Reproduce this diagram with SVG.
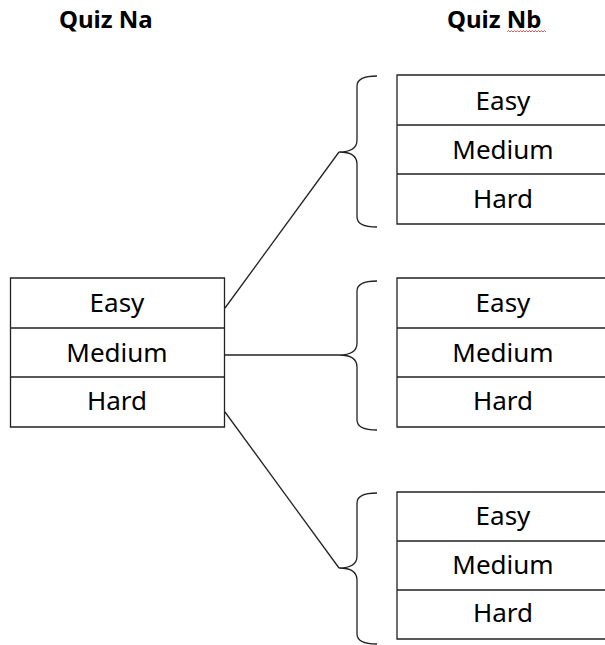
<svg xmlns="http://www.w3.org/2000/svg" width="605" height="645" viewBox="0 0 605 645">
<style>
.title{font-family:"Noto Sans","Liberation Sans",sans-serif;font-weight:bold;font-size:24px;fill:#000}
.cell{font-family:"Noto Sans","Liberation Sans",sans-serif;font-size:26px;fill:#000;text-anchor:middle}
.ln{stroke:#222;stroke-width:1.3;fill:none}
.br{stroke:#222;stroke-width:1.3;fill:none}
</style>
<rect width="605" height="645" fill="#fff"/>
<g id="titles">
<text class="title" x="59" y="28">Quiz Na</text>
<text class="title" x="447" y="28">Quiz Nb</text>
<path d="M507,32 l1.5,-1.5 l1.5,1.5 l1.5,-1.5 l1.5,1.5 l1.5,-1.5 l1.5,1.5 l1.5,-1.5 l1.5,1.5 l1.5,-1.5 l1.5,1.5 l1.5,-1.5 l1.5,1.5 l1.5,-1.5 l1.5,1.5 l1.5,-1.5 l1.5,1.5 l1.5,-1.5 l1.5,1.5 l1.5,-1.5 l1.5,1.5 l1.5,-1.5 l1.5,1.5 l1.5,-1.5 l1.5,1.5 l1.5,-1.5 l1.5,1.5" stroke="#e03030" stroke-width="0.8" fill="none"/>
</g>
<g id="na">
<path class="ln" d="M10.5,278 H224.5 V427 H10.5 Z M10.5,328 H224.5 M10.5,377 H224.5"/>
<text class="cell" x="117" y="312">Easy</text>
<text class="cell" x="117" y="362">Medium</text>
<text class="cell" x="117" y="410">Hard</text>
</g>
<g id="nb1">
<path class="ln" d="M605,75 H397 V224 H605 M397,125 H605 M397,174 H605"/>
<text class="cell" x="503" y="110">Easy</text>
<text class="cell" x="503" y="159">Medium</text>
<text class="cell" x="503" y="208">Hard</text>
<path class="br" d="M377,76 Q357,76 357,86 L357,140 Q357,152 339,152 Q357,152 357,164 L357,217 Q357,227 377,227"/>
</g>
<g id="nb2">
<path class="ln" d="M605,278 H397 V427 H605 M397,328 H605 M397,377 H605"/>
<text class="cell" x="503" y="312">Easy</text>
<text class="cell" x="503" y="362">Medium</text>
<text class="cell" x="503" y="410">Hard</text>
<path class="br" d="M377,281 Q357,281 357,291 L357,343 Q357,355 339,355 Q357,355 357,367 L357,420 Q357,430 377,430"/>
</g>
<g id="nb3">
<path class="ln" d="M605,492 H397 V639 H605 M397,541 H605 M397,590 H605"/>
<text class="cell" x="503" y="525">Easy</text>
<text class="cell" x="503" y="574">Medium</text>
<text class="cell" x="503" y="622">Hard</text>
<path class="br" d="M377,493 Q357,493 357,503 L357,556 Q357,568 339,568 Q357,568 357,580 L357,634 Q357,644 377,644"/>
</g>
<g id="connectors">
<path class="ln" d="M225,308 L339,152"/>
<path class="ln" d="M225,355 L339,355"/>
<path class="ln" d="M225,412 L339,568"/>
</g>
</svg>
